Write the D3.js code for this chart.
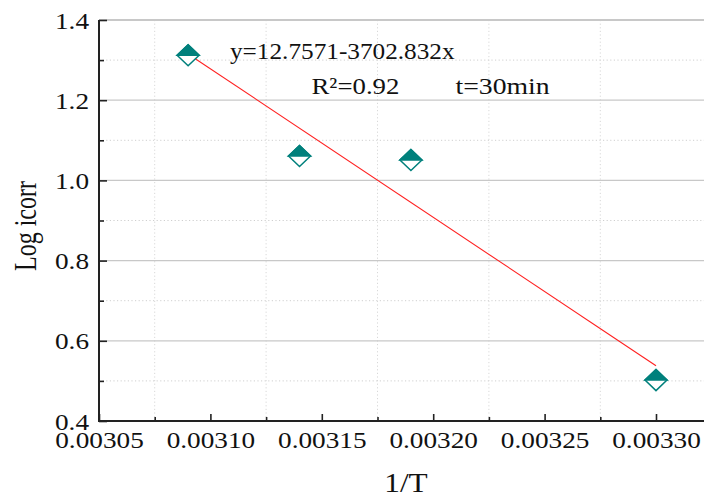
<!DOCTYPE html>
<html>
<head>
<meta charset="utf-8">
<script src="https://cdn.jsdelivr.net/npm/d3@7"></script>
<style>
  html, body { margin: 0; padding: 0; background: #fff; }
  svg { display: block; }
  text { font-family: "Liberation Serif", "Times New Roman", serif; fill: #111; }
</style>
</head>
<body>
<svg id="chart" width="704" height="497"></svg>
<script>
// ---- data ----
const invT = [0.00309, 0.00314, 0.00319, 0.00330];
const logIcorr = [1.312, 1.061, 1.051, 0.502];
const fitIntercept = 12.7571;
const fitSlope = -3702.832;
const xTicks = [0.00305, 0.00310, 0.00315, 0.00320, 0.00325, 0.00330];
const xMinorTicks = [0.003075, 0.003125, 0.003175, 0.003225, 0.003275];
const yTicks = [0.4, 0.6, 0.8, 1.0, 1.2, 1.4];
const yMinorTicks = [0.5, 0.7, 0.9, 1.1, 1.3];
const equationLabel = "y=12.7571-3702.832x";
const r2Label = "R\u00B2=0.92";
const timeLabel = "t=30min";
const xTitle = "1/T";
const yTitle = "Log icorr";

// ---- layout ----
const svg = d3.select("#chart");
const L = 99, T = 20, B = 421, Rr = 704;
const SX = 1.16; // horizontal glyph stretch seen in the reference
const teal = "#00807c";

const x = d3.scaleLinear().domain([0.00305, 0.003325]).range([L, L + 612.7]);
const y = d3.scaleLinear().domain([0.4, 1.4]).range([B, T]);

svg.append("defs").append("clipPath").attr("id", "plotclip")
  .append("rect").attr("x", L).attr("y", T - 2).attr("width", Rr - L).attr("height", B - T + 4);

const grid = svg.append("g").attr("clip-path", "url(#plotclip)");
// minor horizontal dotted
grid.selectAll("line.hmin").data(yMinorTicks).join("line")
  .attr("x1", L).attr("x2", Rr).attr("y1", d => y(d)).attr("y2", d => y(d))
  .attr("stroke", "#cfcfcf").attr("stroke-width", 1).attr("stroke-dasharray", "1.2,2.4");
// minor vertical dotted
grid.selectAll("line.vmin").data(xMinorTicks).join("line")
  .attr("x1", d => x(d)).attr("x2", d => x(d)).attr("y1", T).attr("y2", B)
  .attr("stroke", "#d8d8d8").attr("stroke-width", 1).attr("stroke-dasharray", "1.2,2.4");
// major horizontal solid
grid.selectAll("line.hmaj").data(yTicks.filter(d => d > 0.4)).join("line")
  .attr("x1", L).attr("x2", Rr).attr("y1", d => y(d)).attr("y2", d => y(d))
  .attr("stroke", "#c8c8c8").attr("stroke-width", d => d === 1.4 ? 2 : 1.2);

// regression line
const x0 = invT[0], x1 = invT[invT.length - 1];
svg.append("line")
  .attr("x1", x(x0)).attr("y1", y(fitIntercept + fitSlope * x0))
  .attr("x2", x(x1)).attr("y2", y(fitIntercept + fitSlope * x1))
  .attr("stroke", "#ff2020").attr("stroke-width", 1.1);

// markers: half-filled diamonds
const hw = 11, hh = 10.5;
const pts = invT.map((v, i) => [x(v), y(logIcorr[i])]);
const mk = svg.append("g").selectAll("g").data(pts).join("g")
  .attr("transform", d => `translate(${d[0]},${d[1]})`);
mk.append("path").attr("d", `M0,${-hh}L${hw},0L0,${hh}L${-hw},0Z`)
  .attr("fill", "#fff").attr("stroke", teal).attr("stroke-width", 1.5);
mk.append("path").attr("d", `M0,${-hh}L${hw},0L${-hw},0Z`)
  .attr("fill", teal).attr("stroke", teal).attr("stroke-width", 1.5).attr("stroke-linejoin", "miter");

// axes
function styleAxis(g) {
  g.select(".domain").attr("stroke", "#222").attr("stroke-width", 2);
  g.selectAll(".tick line").attr("stroke", "#222").attr("stroke-width", 1.6);
}
const yAxisMinor = svg.append("g").attr("transform", `translate(${L},0)`)
  .call(d3.axisLeft(y).tickValues(yMinorTicks).tickSize(-5).tickSizeOuter(0).tickFormat(""));
styleAxis(yAxisMinor); yAxisMinor.select(".domain").remove();
const xAxisMinor = svg.append("g").attr("transform", `translate(0,${B})`)
  .call(d3.axisBottom(x).tickValues(xMinorTicks).tickSize(-4).tickSizeOuter(0).tickFormat(""));
styleAxis(xAxisMinor); xAxisMinor.select(".domain").remove();

const yAxis = svg.append("g").attr("transform", `translate(${L},0)`)
  .call(d3.axisLeft(y).tickValues(yTicks).tickSize(-8).tickSizeOuter(0).tickFormat(d3.format(".1f")));
styleAxis(yAxis);
yAxis.selectAll(".tick text")
  .attr("x", null).attr("dy", null)
  .attr("transform", `translate(-10,8) scale(${SX},1)`)
  .attr("text-anchor", "end").style("font-size", "23.5px")
  .style("font-family", "'Liberation Serif', serif").attr("fill", "#111");

const xAxis = svg.append("g").attr("transform", `translate(0,${B})`)
  .call(d3.axisBottom(x).tickValues(xTicks).tickSize(-7).tickSizeOuter(0).tickFormat(d3.format(".5f")));
styleAxis(xAxis);
xAxis.select(".domain").attr("d", `M${L},0H${Rr}`);
yAxis.select(".domain").attr("d", `M0,${T}V${B + 1}`);
xAxis.selectAll(".tick text")
  .attr("y", null).attr("dy", null)
  .attr("transform", `translate(0,27) scale(${SX},1)`)
  .attr("text-anchor", "middle").style("font-size", "23.5px")
  .style("font-family", "'Liberation Serif', serif").attr("fill", "#111");

// titles
svg.append("text").attr("transform", `translate(406,492) scale(${SX},1)`)
  .attr("text-anchor", "middle").style("font-size", "27px").text(xTitle);
svg.append("text").attr("transform", `translate(36,226) rotate(-90) scale(1,1.33)`)
  .attr("text-anchor", "middle").style("font-size", "24px").text(yTitle);

// annotations
svg.append("text").attr("transform", `translate(230,59) scale(1.075,1)`)
  .style("font-size", "23.5px").text(equationLabel);
svg.append("text").attr("transform", `translate(311.5,94) scale(1.14,1)`)
  .style("font-size", "23.5px").text(r2Label);
svg.append("text").attr("transform", `translate(455.5,94) scale(1.18,1)`)
  .style("font-size", "23.5px").text(timeLabel);
</script>
</body>
</html>
